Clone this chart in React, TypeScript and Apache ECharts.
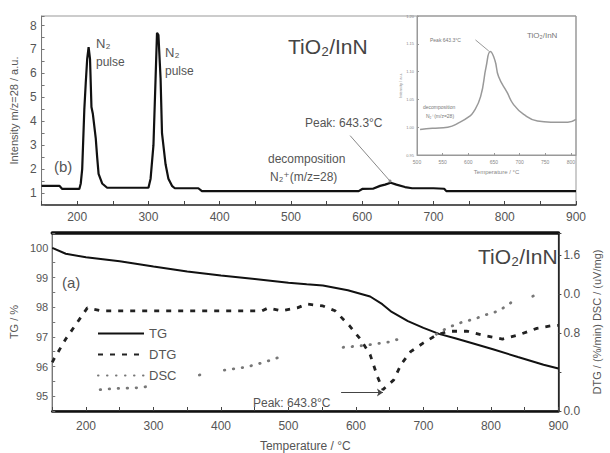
import React, { useEffect, useRef } from "react";
import * as echarts from "echarts";

// ---- (b) mass spectrometry m/z=28 trace ----
const MS_T = [150, 175, 179, 203, 205, 207, 210, 212, 214, 216, 218, 220, 222, 226, 228, 230, 235, 242, 300, 303, 307, 310, 312, 314, 317, 319, 324, 328, 333, 337, 370, 375, 595, 600, 615, 625, 632, 640, 648, 660, 670, 700, 715, 718, 900];
const MS_V = [1.3, 1.3, 1.17, 1.17, 1.4, 2.0, 4.5, 5.6, 6.6, 7.1, 6.6, 4.6, 4.3, 3.3, 2.5, 1.8, 1.4, 1.22, 1.22, 1.6, 3.0, 5.8, 7.7, 7.6, 5.8, 3.5, 2.2, 1.6, 1.3, 1.2, 1.2, 1.08, 1.08, 1.17, 1.18, 1.3, 1.35, 1.43, 1.35, 1.25, 1.2, 1.2, 1.18, 1.08, 1.08];

// ---- inset ----
const INSET_T = [506, 530, 560, 584, 600, 610, 624, 635, 643, 652, 659, 676, 688, 708, 735, 761, 794, 810];
const INSET_V = [0.996, 0.998, 1.0, 1.009, 1.018, 1.027, 1.055, 1.11, 1.136, 1.12, 1.091, 1.062, 1.041, 1.023, 1.011, 1.009, 1.009, 1.014];

// ---- (a) thermal analysis ----
const TG_T = [150, 170, 200, 250, 300, 350, 400, 450, 500, 527, 551, 588, 621, 639, 653, 677, 700, 723, 747, 770, 803, 840, 878, 900];
const TG_V = [100.0, 99.8, 99.68, 99.55, 99.37, 99.2, 99.07, 98.95, 98.82, 98.77, 98.73, 98.57, 98.36, 98.1, 97.84, 97.53, 97.3, 97.1, 96.95, 96.8, 96.58, 96.32, 96.06, 95.93];

const DTG_T = [150, 153, 170, 186, 202, 223, 300, 400, 461, 470, 490, 513, 527, 551, 569, 590, 607, 621, 632, 640, 656, 667, 681, 700, 719, 737, 765, 794, 817, 840, 868, 892, 900];
const DTG_V = [0.5, 0.54, 0.74, 0.9, 1.06, 1.03, 1.03, 1.03, 1.03, 1.06, 1.03, 1.06, 1.1, 1.08, 1.03, 0.88, 0.735, 0.58, 0.35, 0.22, 0.32, 0.48, 0.61, 0.7, 0.78, 0.82, 0.82, 0.77, 0.74, 0.78, 0.85, 0.88, 0.88];

const DSC_T = [221, 240, 260, 280, 298, 330, 368, 376, 390, 405, 436, 453, 468, 485, 530, 581, 598, 614, 629, 649, 661, 690, 719, 737, 756, 775, 793, 812, 831, 850, 862, 870];
const DSC_V: (number | string)[] = [0.22, 0.23, 0.235, 0.24, 0.26, "-", 0.37, 0.385, "-", 0.42, 0.45, 0.48, 0.51, 0.55, "-", 0.655, 0.665, 0.675, 0.69, 0.71, 0.735, "-", 0.79, 0.86, 0.91, 0.945, 0.99, 1.03, 1.12, "-", 1.18, 1.2];

const X_TICKS_SHOWN = [200, 300, 400, 500, 600, 700, 800, 900];
const RIGHT_TICK_LABELS = ["0.0", "", "0.8", "0.0", "1.6"];
const LEGEND_NAMES = ["TG", "DTG", "DSC"];

const zip = (a: number[], b: (number | string)[]) => a.map((t, i) => [t, b[i]]);

const FONT = "Liberation Sans, Arial, DejaVu Sans, sans-serif";
const GRAY = "#555";

function txt(text: string, x: number, y: number, fontSize: number, fill = GRAY) {
  return {
    type: "text",
    x,
    y,
    z: 50,
    style: { text, fontSize, fontFamily: FONT, fill, verticalAlign: "middle" },
  };
}

export default function App() {
  const ref = useRef<HTMLDivElement>(null);
  useEffect(() => {
    document.body.style.margin = "0";
    const chart = echarts.init(ref.current!, null, { renderer: "svg" });
    const xLabel = (v: number) => (X_TICKS_SHOWN.includes(v) ? String(v) : "");
    const intLabel = (v: number) => (Math.abs(v - Math.round(v)) < 1e-6 ? String(Math.round(v)) : "");
    const baseX = {
      type: "value",
      min: 150,
      max: 900,
      interval: 50,
      splitLine: { show: false },
      axisTick: { inside: true, length: 4, lineStyle: { color: "#444" } },
      axisLabel: { formatter: xLabel, color: GRAY, fontSize: 12, margin: 6, fontFamily: FONT },
    };
    chart.setOption({
      animation: false,
      backgroundColor: "#fff",
      textStyle: { fontFamily: FONT },
      grid: [
        { left: 41, top: 16, width: 535, height: 189, show: true, borderColor: "#999", borderWidth: 1 },
        { left: 41, top: 233, width: 535, height: 190, show: true, borderColor: "#222", borderWidth: 1 },
        { left: 417, top: 16, width: 159, height: 139, show: true, borderColor: "#999", borderWidth: 1 },
      ],
      xAxis: [
        { ...baseX, gridIndex: 0, axisLine: { lineStyle: { color: "#333", width: 1.5 } } },
        {
          ...baseX,
          gridIndex: 1,
          axisLine: { lineStyle: { color: "#111", width: 2.5 } },
          axisLabel: { ...baseX.axisLabel, margin: 9 },
          name: "Temperature / °C",
          nameLocation: "middle",
          nameGap: 29,
          nameTextStyle: { color: GRAY, fontSize: 12 },
        },
        {
          type: "value",
          gridIndex: 1,
          position: "top",
          min: 150,
          max: 900,
          splitLine: { show: false },
          axisTick: { show: false },
          axisLabel: { show: false },
          axisLine: { lineStyle: { color: "#111", width: 3.5 } },
        },
        {
          type: "value",
          gridIndex: 2,
          min: 500,
          max: 810,
          interval: 50,
          splitLine: { show: false },
          axisLine: { lineStyle: { color: "#999" } },
          axisTick: { inside: true, length: 2, lineStyle: { color: "#999" } },
          axisLabel: { color: "#888", fontSize: 5, margin: 4, showMaxLabel: false },
          name: "Temperature / °C",
          nameLocation: "middle",
          nameGap: 14,
          nameTextStyle: { color: "#888", fontSize: 6 },
        },
      ],
      yAxis: [
        {
          type: "value",
          gridIndex: 0,
          min: 0.5,
          max: 8.4,
          interval: 0.5,
          splitLine: { show: false },
          axisLine: { show: true, lineStyle: { color: "#777" } },
          axisTick: { inside: true, length: 3, lineStyle: { color: "#777" } },
          axisLabel: { formatter: intLabel, color: GRAY, fontSize: 12, margin: 5 },
          name: "Intensity m/z=28 / a.u.",
          nameLocation: "middle",
          nameGap: 18,
          nameTextStyle: { color: GRAY, fontSize: 11 },
        },
        {
          type: "value",
          gridIndex: 1,
          min: 94.5,
          max: 100.5,
          interval: 0.5,
          splitLine: { show: false },
          axisLine: { show: true, lineStyle: { color: "#777" } },
          axisTick: { inside: true, length: 3, lineStyle: { color: "#777" } },
          axisLabel: { formatter: intLabel, color: GRAY, fontSize: 11, margin: 4 },
          name: "TG / %",
          nameLocation: "middle",
          nameGap: 23,
          nameTextStyle: { color: GRAY, fontSize: 11 },
        },
        {
          type: "value",
          gridIndex: 1,
          position: "right",
          min: 0,
          max: 1.83,
          interval: 0.4,
          splitLine: { show: false },
          axisLine: { show: true, lineStyle: { color: "#222", width: 1.5 } },
          axisTick: { inside: false, length: 3, lineStyle: { color: "#444" } },
          axisLabel: {
            formatter: (v: number) => RIGHT_TICK_LABELS[Math.round(v / 0.4)] ?? "",
            color: GRAY,
            fontSize: 12,
            margin: 5,
          },
          name: "DTG / (%/min) DSC / (uV/mg)",
          nameLocation: "middle",
          nameRotate: 90,
          nameGap: 27,
          nameTextStyle: { color: GRAY, fontSize: 11 },
        },
        {
          type: "value",
          gridIndex: 2,
          min: 0.95,
          max: 1.2,
          interval: 0.05,
          splitLine: { show: false },
          axisLine: { show: true, lineStyle: { color: "#999" } },
          axisTick: { inside: true, length: 2, lineStyle: { color: "#999" } },
          axisLabel: { formatter: (v: number) => v.toFixed(2), color: "#888", fontSize: 4, margin: 3 },
          name: "Intensity / a.u.",
          nameLocation: "middle",
          nameGap: 12,
          nameTextStyle: { color: "#888", fontSize: 4 },
        },
      ],
      legend: {
        data: LEGEND_NAMES,
        orient: "vertical",
        left: 92,
        top: 322,
        itemWidth: 46,
        itemHeight: 14,
        itemGap: 8,
        itemStyle: { color: "transparent", borderColor: "transparent", borderWidth: 0, opacity: 0 },
        textStyle: { color: GRAY, fontSize: 13 },
      },
      series: [
        {
          type: "line",
          xAxisIndex: 0,
          yAxisIndex: 0,
          data: zip(MS_T, MS_V),
          symbol: "none",
          lineStyle: { color: "#111", width: 2.2 },
          itemStyle: { color: "#111" },
          markLine: {
            silent: true,
            symbol: ["none", "circle"],
            symbolSize: 3,
            label: { show: false },
            lineStyle: { color: "#888", width: 1, type: "solid" },
            data: [[{ coord: [583, 3.4] }, { coord: [639, 1.5] }]],
          },
        },
        {
          type: "line",
          xAxisIndex: 3,
          yAxisIndex: 3,
          data: zip(INSET_T, INSET_V),
          symbol: "none",
          smooth: true,
          lineStyle: { color: "#999", width: 1.5 },
          markLine: {
            silent: true,
            symbol: ["none", "none"],
            label: { show: false },
            lineStyle: { color: "#999", width: 1, type: "solid" },
            data: [[{ coord: [614, 1.157] }, { coord: [640, 1.137] }]],
          },
        },
        {
          name: "TG",
          type: "line",
          xAxisIndex: 1,
          yAxisIndex: 1,
          data: zip(TG_T, TG_V),
          symbol: "none",
          lineStyle: { color: "#111", width: 2 },
          itemStyle: { color: "#111" },
        },
        {
          name: "DTG",
          type: "line",
          xAxisIndex: 1,
          yAxisIndex: 2,
          data: zip(DTG_T, DTG_V),
          symbol: "none",
          lineStyle: { color: "#222", width: 2.8, type: [5, 7] },
          itemStyle: { color: "#222" },
          markLine: {
            silent: true,
            symbol: ["none", "arrow"],
            symbolSize: 6,
            label: { show: false },
            lineStyle: { color: "#444", width: 1, type: "solid" },
            data: [[{ coord: [578, 0.19] }, { coord: [640, 0.19] }]],
          },
        },
        {
          name: "DSC",
          type: "line",
          xAxisIndex: 1,
          yAxisIndex: 2,
          data: zip(DSC_T, DSC_V),
          connectNulls: false,
          symbol: "none",
          lineStyle: { color: "#777", width: 2.8, type: [0.5, 8.5], cap: "round" },
          itemStyle: { color: "#777" },
        },
      ],
      graphic: [
        txt("N₂", 96, 43, 13),
        txt("pulse", 96, 62, 12),
        txt("N₂", 165, 52, 13),
        txt("pulse", 165, 71, 12),
        txt("(b)", 54, 166, 15),
        txt("TiO₂/InN", 288, 46, 21, "#444"),
        txt("Peak: 643.3°C", 305, 123, 12),
        txt("decomposition", 268, 159, 12),
        txt("N₂⁺(m/z=28)", 270, 177, 12),
        txt("(a)", 62, 282, 15),
        txt("TiO₂/InN", 478, 256, 21, "#444"),
        txt("Peak: 643.8°C", 253, 403, 12),
        txt("Peak 643.3°C", 430, 40, 5, "#777"),
        txt("TiO₂/InN", 527, 35, 8, "#777"),
        txt("decomposition", 423, 107, 5, "#777"),
        txt("N₂⁺(m/z=28)", 426, 116, 5, "#777"),
      ],
    });
    return () => chart.dispose();
  }, []);
  return <div ref={ref} style={{ width: 610, height: 453 }} />;
}
